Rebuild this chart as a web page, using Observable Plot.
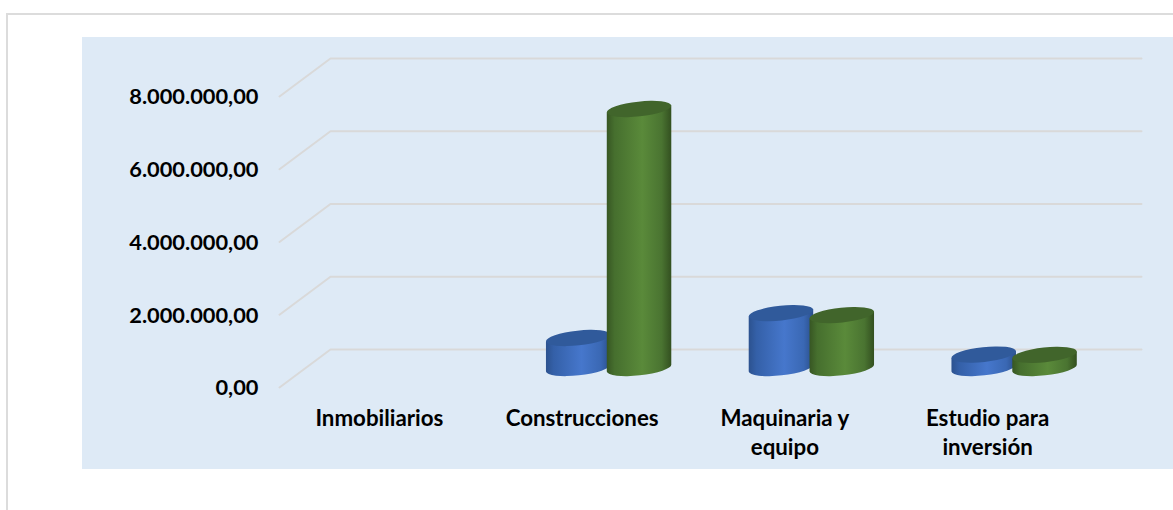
<!DOCTYPE html>
<html>
<head>
<meta charset="utf-8">
<script src="https://cdn.jsdelivr.net/npm/d3@7"></script>
<script src="https://cdn.jsdelivr.net/npm/@observablehq/plot@0.6"></script>
<style>
html,body{margin:0;padding:0;background:#fff;overflow:hidden}
#card{position:absolute;left:6px;top:13px;width:1167px;height:497px;border-left:2px solid #dcdcdc;border-top:2px solid #dcdcdc;box-sizing:border-box}
#panel{position:absolute;left:82px;top:37px;width:1091px;height:432px;background:#deeaf6}
#chart{position:absolute;left:0;top:0}
</style>
</head>
<body>
<div id="card"></div>
<div id="panel"></div>
<div id="chart"></div>
<script>
const categories = ["Inmobiliarios", "Construcciones", "Maquinaria y\nequipo", "Estudio para\ninversión"];
const serieA = [0, 825000, 1510000, 370000];
const serieB = [0, 7120000, 1455000, 360000];
const yTicks = [0, 2000000, 4000000, 6000000, 8000000];

// oblique projection of the chart floor, in data units
const depthX = 0.2515;
const depthY = 1045000;
const barOffset = 0.15;
const barWidth = 0.32;
const tilt = 6.2 * Math.PI / 180;

const fmt = d3.formatLocale({decimal: ",", thousands: ".", grouping: [3], currency: ["", ""]}).format(",.2f");

const bars = [];
categories.forEach((c, i) => {
  if (serieA[i] > 0) bars.push({i, s: "a", v: serieA[i], c: i + 0.5 + depthX / 2 - barOffset});
  if (serieB[i] > 0) bars.push({i, s: "b", v: serieB[i], c: i + 0.5 + depthX / 2 + barOffset});
});

const palette = {
  a: {grad: "url(#gradA)", top: "#305a9b"},
  b: {grad: "url(#gradB)", top: "#41652b"}
};

function gradient(id, stops) {
  return `<linearGradient id="${id}" x1="0" x2="1" y1="0" y2="0">` +
    stops.map(([o, c]) => `<stop offset="${o}" stop-color="${c}"/>`).join("") + `</linearGradient>`;
}

const defs = () => {
  const g = d3.create("svg:defs");
  g.html(
    gradient("gradA", [[0, "#2c528f"], [0.12, "#3460a8"], [0.55, "#4677cc"], [0.85, "#3a68b4"], [1, "#2a4e8a"]]) +
    gradient("gradB", [[0, "#375623"], [0.12, "#466f2e"], [0.55, "#5a8a3a"], [0.85, "#4a7431"], [1, "#335020"]])
  );
  return g.node();
};

function cylinder(index, scales, values, dimensions, context) {
  const g = d3.select(context.document.createElementNS("http://www.w3.org/2000/svg", "g"));
  for (const k of index) {
    const d = bars[k];
    const left = values.x1[k], right = values.x2[k];
    const yb = values.y1[k], yt = values.y2[k];
    const cx = (left + right) / 2;
    const rx = (right - left) / 2;
    const ry = 7.4;
    const dx = rx * Math.cos(tilt), dy = rx * Math.sin(tilt);
    const rot = -tilt * 180 / Math.PI;
    g.append("path")
      .attr("fill", palette[d.s].grad)
      .attr("d",
        `M${cx - dx},${yt + dy}` +
        `L${cx - dx},${yb + dy}` +
        `A${rx},${ry} ${rot} 0 0 ${cx + dx},${yb - dy}` +
        `L${cx + dx},${yt - dy}Z`);
    g.append("ellipse")
      .attr("fill", palette[d.s].top)
      .attr("cx", cx).attr("cy", yt)
      .attr("rx", rx).attr("ry", ry)
      .attr("transform", `rotate(${rot} ${cx} ${yt})`);
  }
  return g.node();
}

const gridPoints = yTicks.flatMap(v => [
  {v, x: 0, y: v},
  {v, x: depthX, y: v + depthY},
  {v, x: categories.length + depthX, y: v + depthY}
]);

const plot = Plot.plot({
  width: 1173,
  height: 510,
  marginLeft: 279,
  marginRight: 83,
  marginTop: 96,
  marginBottom: 123,
  x: {domain: [0, categories.length]},
  y: {domain: [0, 8000000]},
  style: {background: "transparent", fontFamily: "Lato", fontSize: "21.8px", fontWeight: 700, color: "#000"},
  marks: [
    defs,
    Plot.line(gridPoints, {x: "x", y: "y", z: "v", stroke: "#d9d9d9", strokeWidth: 2, curve: "linear"}),
    Plot.axisY({ticks: yTicks, tickFormat: fmt, tickSize: 0, tickPadding: 21, label: null, dy: 1}),
    Plot.axisX({ticks: categories.map((_, i) => i + 0.5), tickFormat: t => categories[t - 0.5], tickSize: 0, tickPadding: 18, label: null, lineHeight: 1.3, textOverflow: null, fontSize: 22.3, dx: -1.5}),
    Plot.rect(bars, {
      x1: d => d.c - barWidth / 2,
      x2: d => d.c + barWidth / 2,
      y1: () => depthY / 2,
      y2: d => d.v + depthY / 2,
      render: cylinder
    })
  ]
});
document.getElementById("chart").append(plot);
</script>
</body>
</html>
